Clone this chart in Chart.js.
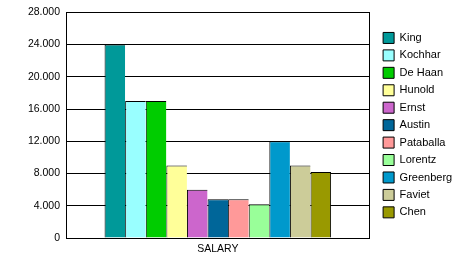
<!DOCTYPE html>
<html>
<head>
<meta charset="utf-8">
<script src="https://cdn.jsdelivr.net/npm/chart.js@4"></script>
<style>
  html, body { margin: 0; padding: 0; background: #fff; }
</style>
</head>
<body>
<canvas id="salaryChart" width="467" height="263"></canvas>
<script>
// chart data
const category = ["SALARY"];
const employees = ["King", "Kochhar", "De Haan", "Hunold", "Ernst", "Austin",
                   "Pataballa", "Lorentz", "Greenberg", "Faviet", "Chen"];
const salaries = [24000, 17000, 17000, 9000, 6000, 4800, 4800, 4200, 12008, 9000, 8200];
const yTicks = [0, 4000, 8000, 12000, 16000, 20000, 24000, 28000];

const barColors = ["#009999", "#99ffff", "#00cc00", "#ffff99", "#cc66cc", "#006699",
                   "#ff9999", "#99ff99", "#0099cc", "#cccc99", "#999900"];

const baseFont = { family: "Arial, 'Liberation Sans', sans-serif", size: 11 };

// 24000 -> "24.000"
function fmt(v) {
  return String(v).replace(/\B(?=(\d{3})+(?!\d))/g, ".");
}

const datasets = employees.map((name, i) => ({
  label: name,
  data: [salaries[i]],
  backgroundColor: barColors[i],
  borderColor: "#000",
  borderWidth: { top: 1, left: 1, right: i === employees.length - 1 ? 1 : 0, bottom: 0 },
  barPercentage: 1,
  categoryPercentage: 0.746
}));

new Chart(document.getElementById("salaryChart"), {
  type: "bar",
  data: { labels: category, datasets: datasets },
  options: {
    responsive: false,
    animation: false,
    layout: { padding: { top: 12, left: 0, right: 15, bottom: 0 } },
    plugins: {
      tooltip: { enabled: false },
      legend: {
        position: "right",
        fullSize: false,
        align: "center",
        labels: {
          color: "#000",
          font: baseFont,
          boxWidth: 11,
          boxHeight: 11,
          padding: 6.44,
          generateLabels(chart) {
            return Chart.defaults.plugins.legend.labels.generateLabels(chart)
              .map(l => Object.assign(l, { lineWidth: 1, strokeStyle: "#000" }));
          }
        }
      }
    },
    scales: {
      x: {
        grid: { display: false, drawTicks: false },
        border: { color: "#000", width: 1 },
        ticks: { color: "#000", font: { family: baseFont.family, size: 10.5 }, padding: 5 },
        afterFit(scale) { scale.height = 25; }
      },
      y: {
        min: yTicks[0],
        max: yTicks[yTicks.length - 1],
        grid: { color: "#000", lineWidth: 1, drawTicks: false },
        border: { color: "#000", width: 1 },
        ticks: {
          color: "#000",
          font: { family: baseFont.family, size: 10.5 },
          padding: 6,
          stepSize: yTicks[1] - yTicks[0],
          callback: v => fmt(v)
        },
        afterFit(scale) { scale.width = 66; }
      },
      // right edge of the plot box
      yRight: {
        type: "linear",
        position: "right",
        grid: { display: false, drawTicks: false },
        border: { color: "#000", width: 1 },
        ticks: { display: false },
        afterFit(scale) { scale.width = 7; }
      }
    }
  }
});
</script>
</body>
</html>
